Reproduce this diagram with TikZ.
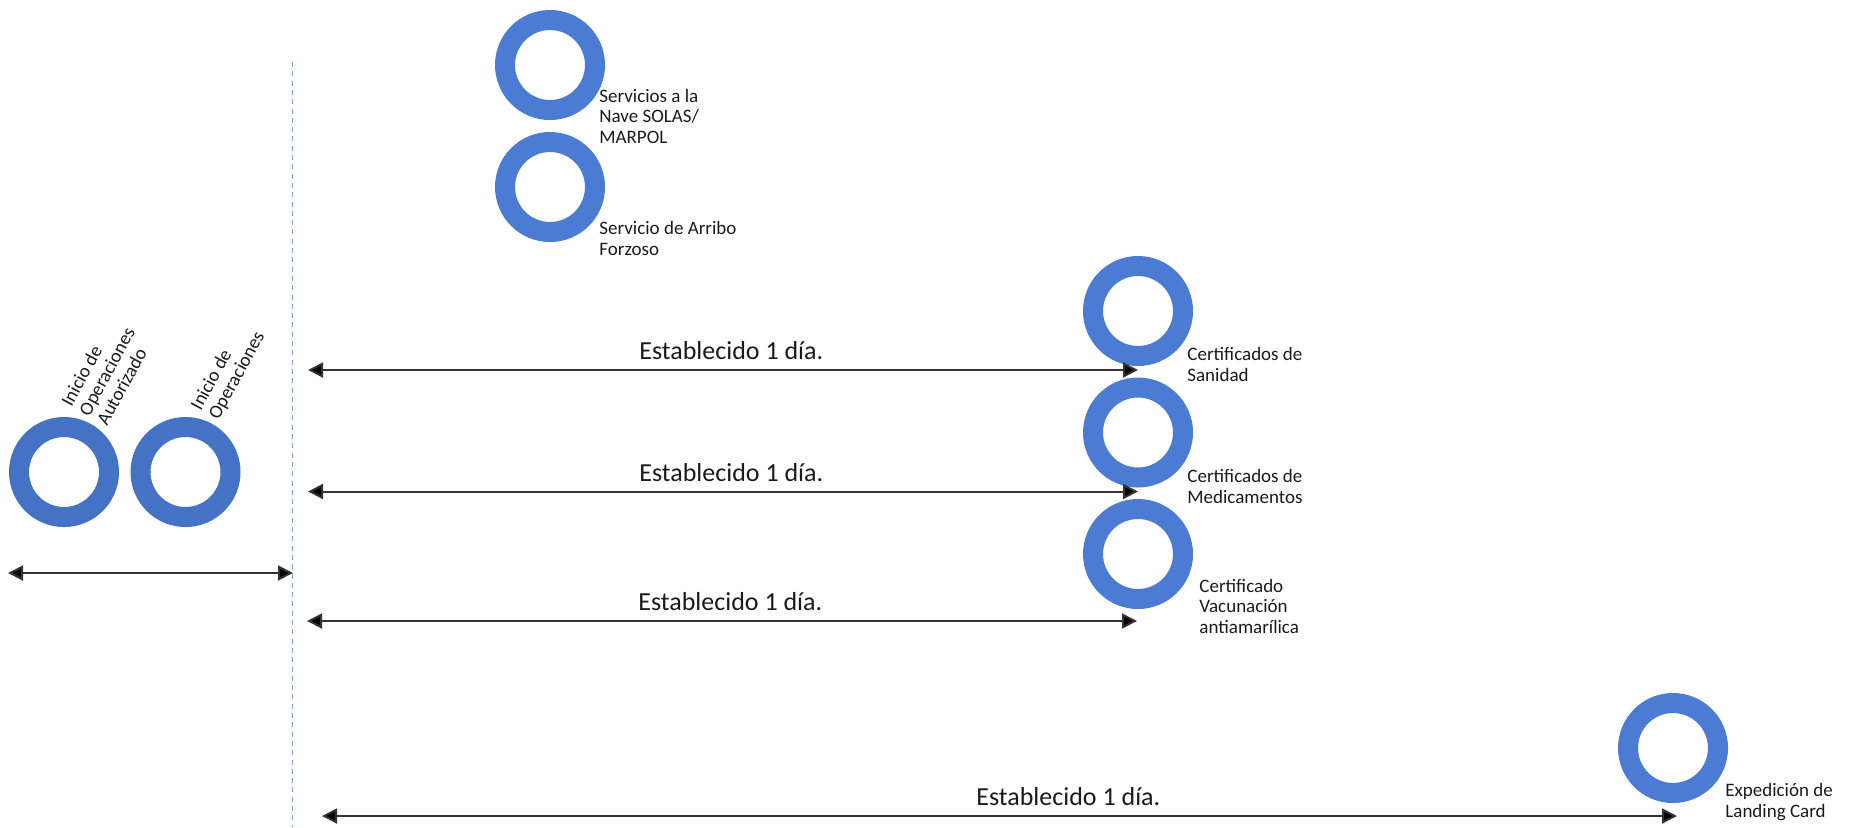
\documentclass[tikz,border=0pt]{standalone}
\usepackage{fontspec}
\setmainfont{Carlito}
\usetikzlibrary{arrows.meta}
\definecolor{ringdark}{HTML}{4472C4}
\definecolor{ringlight}{HTML}{4B7BD3}
\definecolor{dashblue}{HTML}{7C9FDD}
\definecolor{txt}{HTML}{1A1A1A}
\tikzset{
  ringA/.style={circle, draw=ringdark, line width=10pt, minimum size=45pt, inner sep=0pt},
  ringB/.style={circle, draw=ringlight, line width=10pt, minimum size=45pt, inner sep=0pt},
  lbl/.style={anchor=base west, inner sep=0pt, align=left, text=txt, font=\fontsize{9.5pt}{10.1pt}\selectfont},
  rlbl/.style={lbl, rotate=61.5},
  big/.style={anchor=base west, inner sep=0pt, text=txt, font=\fontsize{13pt}{15pt}\selectfont},
  span/.style={draw=black!80, line width=1pt, {Triangle[length=7.5pt,width=7.5pt,fill=black]}-{Triangle[length=7.5pt,width=7.5pt,fill=black]}},
  divider/.style={draw=dashblue, line width=0.7pt, dash pattern=on 2.5pt off 2.15pt}
}
\begin{document}
\begin{tikzpicture}[x=0.5pt,y=-0.5pt]
\useasboundingbox (0,0) rectangle (1850,827);
% divider
\coordinate (dtop) at (292.7,62);
\coordinate (dbot) at (292.7,827);
\draw[divider] (dtop) -- (dbot);
% left circles
\node[ringA] (ia) at (64,472) {};
\node[ringA] (io) at (185.5,472) {};
\node[rlbl] (ial) at (107,427) {Inicio de\\Operaciones\\Autorizado};
\node[rlbl] (iol) at (218.5,421) {Inicio de\\Operaciones};
\coordinate (la) at (8,573);
\coordinate (lb) at (293,573);
\draw[span] (la) -- (lb);
% top circles
\node[ringB] (sol) at (550,65) {};
\node[ringB] (arr) at (550,187) {};
\node[lbl] (soll) at (599,143) {Servicios a la\\Nave SOLAS/\\MARPOL};
\node[lbl] (arrl) at (599,255) {Servicio de Arribo\\Forzoso};
% certificates
\node[ringB] (san) at (1138,311) {};
\node[ringB] (med) at (1138,432.5) {};
\node[ringB] (vac) at (1138,554) {};
\node[lbl] (sanl) at (1187,381) {Certificados de\\Sanidad};
\node[lbl] (medl) at (1187,503) {Certificados de\\Medicamentos};
\node[lbl] (vacl) at (1199,633) {Certificado\\Vacunación\\antiamarílica};
% landing card
\node[ringB] (lan) at (1673,748) {};
\node[lbl] (lanl) at (1725,817) {Expedición de\\Landing Card};
% arrows
\coordinate (a1s) at (308,370);
\coordinate (a1e) at (1138,370);
\coordinate (a2s) at (308,491.5);
\coordinate (a2e) at (1138,491.5);
\coordinate (a3s) at (307,621);
\coordinate (a3e) at (1137,621);
\coordinate (a4s) at (322,816);
\coordinate (a4e) at (1677,816);
\draw[span] (a1s) -- (a1e);
\draw[span] (a2s) -- (a2e);
\draw[span] (a3s) -- (a3e);
\draw[span] (a4s) -- (a4e);
\node[big] (t1) at (639,359) {Establecido 1 día.};
\node[big] (t2) at (639,481) {Establecido 1 día.};
\node[big] (t3) at (638,610) {Establecido 1 día.};
\node[big] (t4) at (976,805) {Establecido 1 día.};
\end{tikzpicture}
\end{document}
